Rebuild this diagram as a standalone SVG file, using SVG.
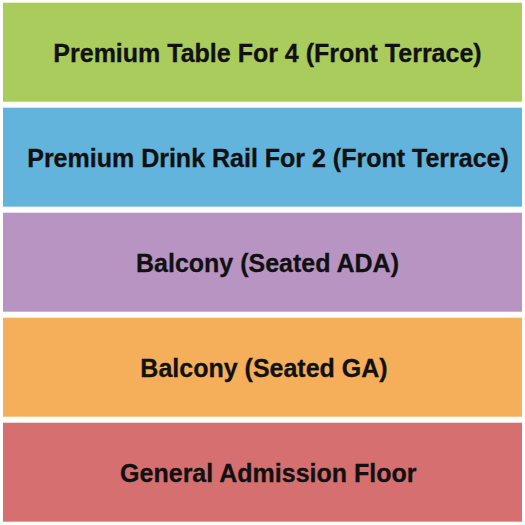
<svg xmlns="http://www.w3.org/2000/svg" width="525" height="525" viewBox="0 0 525 525">
  <style>
    .sec { stroke: none; }
    .lbl { font-family: "Liberation Sans", Arial, sans-serif; font-weight: bold; font-size: 25px; fill: #111111; text-anchor: middle; stroke: #111111; stroke-width: 0.3px; }
  </style>
  <rect x="0" y="0" width="525" height="525" fill="#ffffff"/>
  <g id="premium-table">
    <rect class="sec" x="3" y="2.7" width="519" height="99" fill="#a9cc5c"/>
    <text class="lbl" x="267.5" y="61.7">Premium Table For 4 (Front Terrace)</text>
  </g>
  <g id="premium-drink-rail">
    <rect class="sec" x="3" y="107.7" width="519" height="99" fill="#63b4dc"/>
    <text class="lbl" x="268" y="166.7">Premium Drink Rail For 2 (Front Terrace)</text>
  </g>
  <g id="balcony-ada">
    <rect class="sec" x="3" y="212.7" width="519" height="99" fill="#b894c2"/>
    <text class="lbl" x="267.5" y="271.7">Balcony (Seated ADA)</text>
  </g>
  <g id="balcony-ga">
    <rect class="sec" x="3" y="317.7" width="519" height="99" fill="#f5ae5a"/>
    <text class="lbl" x="264" y="376.7">Balcony (Seated GA)</text>
  </g>
  <g id="ga-floor">
    <rect class="sec" x="3" y="422.7" width="519" height="99" fill="#d66f6f"/>
    <text class="lbl" x="268.3" y="481.7">General Admission Floor</text>
  </g>
  <g id="connectors"></g>
</svg>
